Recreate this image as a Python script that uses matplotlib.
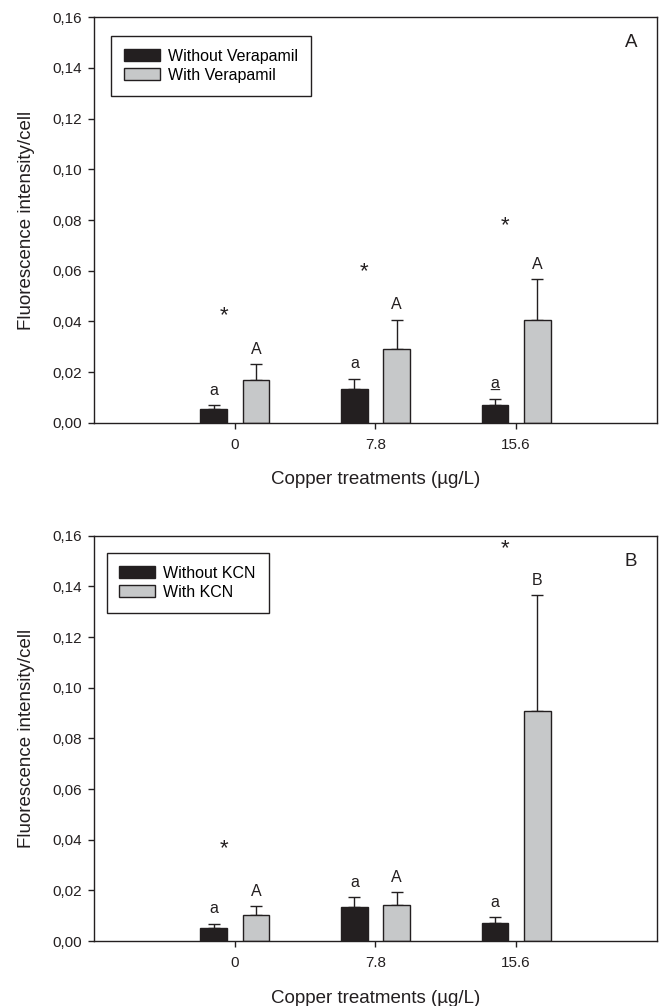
import numpy as np
import matplotlib
matplotlib.use("Agg")
import matplotlib.pyplot as plt

plt.rcParams['font.family'] = ['Liberation Sans', 'DejaVu Sans']

# Copper treatments (ug/L)
conc = ['0', '7.8', '15.6']

# Panel A: verapamil
verap_without = [0.0054, 0.0134, 0.0070]
verap_without_err = [0.0016, 0.0039, 0.0025]
verap_with = [0.0169, 0.0289, 0.0407]
verap_with_err = [0.0061, 0.0117, 0.0159]
verap_letters_without = ['a', 'a', 'a']
verap_letters_with = ['A', 'A', 'A']
verap_stars = [0.0437, 0.0610, 0.0792]

# Panel B: KCN
kcn_without = [0.0053, 0.0134, 0.0070]
kcn_without_err = [0.0015, 0.0040, 0.0025]
kcn_with = [0.0101, 0.0142, 0.0909]
kcn_with_err = [0.0036, 0.0051, 0.0457]
kcn_letters_without = ['a', 'a', 'a']
kcn_letters_with = ['A', 'A', 'B']
kcn_stars = [0.0379, None, 0.1563]

dark = '#231f20'
gray = '#c6c8c9'
width = 0.19
off = 0.15


def draw_panel(ax, without, without_err, with_, with_err, let_wo, let_w, stars,
               labels, panel, legend_xy, underline_last=False):
    x = np.arange(len(conc))
    ax.bar(x - off, without, width, color=dark, edgecolor=dark, linewidth=1,
           label=labels[0], zorder=2)
    ax.bar(x + off, with_, width, color=gray, edgecolor=dark, linewidth=1,
           label=labels[1], zorder=2)
    # only upper error bars
    ax.errorbar(x - off, without, yerr=[np.zeros(len(x)), without_err], fmt='none',
                ecolor=dark, elinewidth=1, capsize=4.5, capthick=1, zorder=1)
    ax.errorbar(x + off, with_, yerr=[np.zeros(len(x)), with_err], fmt='none',
                ecolor=dark, elinewidth=1, capsize=4.5, capthick=1, zorder=1)

    for i in range(len(x)):
        top_wo = without[i] + without_err[i]
        top_w = with_[i] + with_err[i]
        ax.annotate(let_wo[i], (x[i] - off, top_wo), xytext=(0, 7.5),
                    textcoords='offset points', ha='center', va='baseline',
                    fontsize=11.5, color=dark)
        if underline_last and i == len(x) - 1:
            ax.annotate('_', (x[i] - off, top_wo), xytext=(0, 7.5),
                        textcoords='offset points', ha='center', va='baseline',
                        fontsize=11.5, color=dark)
        ax.annotate(let_w[i], (x[i] + off, top_w), xytext=(0, 7.5),
                    textcoords='offset points', ha='center', va='baseline',
                    fontsize=11.5, color=dark)
        if stars[i] is not None:
            ax.annotate('*', (x[i] - 0.08, stars[i]), xytext=(0, -6.5),
                        textcoords='offset points', ha='center', va='baseline',
                        fontsize=16, color=dark)

    ax.set_xlim(-1, 3)
    ax.set_ylim(0, 0.16)
    ax.set_xticks(x)
    ax.set_xticklabels(conc)
    ax.set_yticks(np.arange(0, 0.161, 0.02))
    ax.set_yticklabels([f'{v:.2f}'.replace('.', ',') for v in np.arange(0, 0.161, 0.02)])
    ax.tick_params(axis='both', direction='out', length=4, width=1, labelsize=11,
                   colors=dark)
    ax.tick_params(axis='x', pad=7)
    ax.tick_params(axis='y', pad=5)
    for s in ax.spines.values():
        s.set_linewidth(1)
        s.set_color(dark)
    ax.set_xlabel('Copper treatments (µg/L)', fontsize=13.5, color=dark, labelpad=14)
    ax.set_ylabel('Fluorescence intensity/cell', fontsize=13.5, color=dark, labelpad=12)
    ax.text(0.954, 0.937, panel, transform=ax.transAxes, ha='center', va='center',
            fontsize=13.5, color=dark)
    leg = ax.legend(loc='upper left', bbox_to_anchor=legend_xy, borderaxespad=0,
                    fontsize=11.5, fancybox=False, edgecolor=dark, framealpha=1,
                    handlelength=2.25, handleheight=0.75, labelspacing=0.25,
                    handletextpad=0.5, borderpad=0.8)
    leg.get_frame().set_linewidth(1)


fig = plt.figure(figsize=(6.64, 10.06), dpi=100)
ax1 = fig.add_axes([0.142, 0.5798, 0.847, 0.403])
ax2 = fig.add_axes([0.142, 0.0646, 0.847, 0.4029])

draw_panel(ax1, verap_without, verap_without_err, verap_with, verap_with_err,
           verap_letters_without, verap_letters_with, verap_stars,
           ['Without Verapamil', 'With Verapamil'], 'A', (0.03, 0.954),
           underline_last=True)
draw_panel(ax2, kcn_without, kcn_without_err, kcn_with, kcn_with_err,
           kcn_letters_without, kcn_letters_with, kcn_stars,
           ['Without KCN', 'With KCN'], 'B', (0.022, 0.957))

fig.savefig('out.png', dpi=100)
